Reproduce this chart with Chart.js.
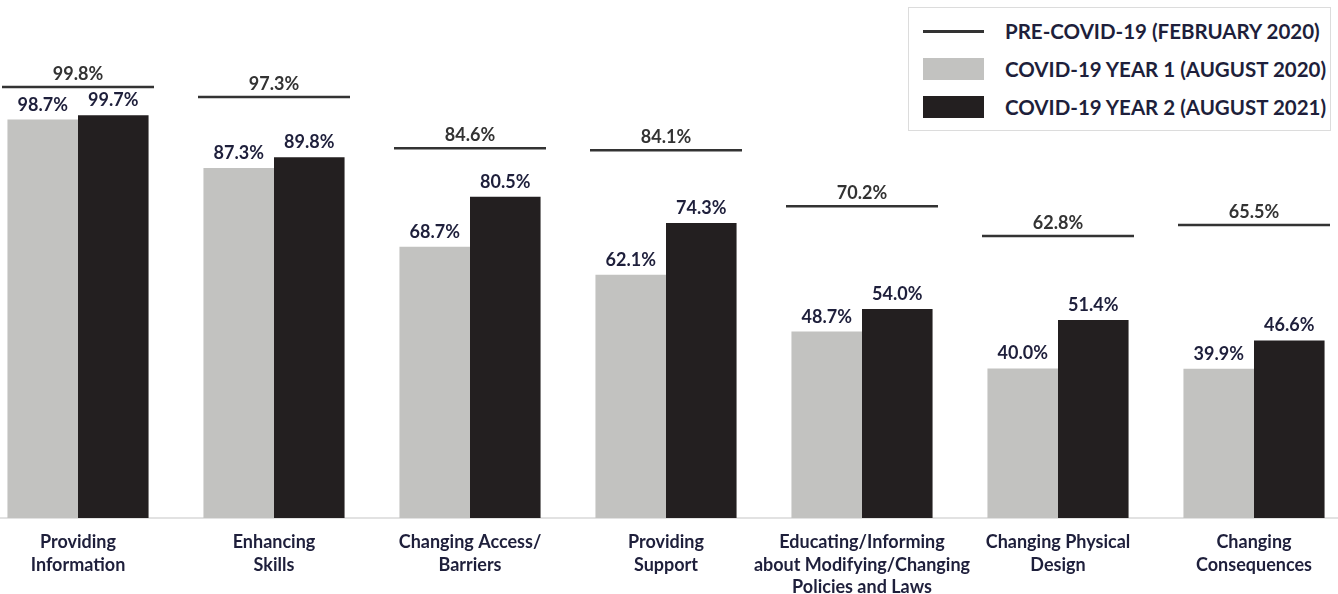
<!DOCTYPE html>
<html>
<head>
<meta charset="utf-8">
<script src="https://cdn.jsdelivr.net/npm/chart.js@4/dist/chart.umd.min.js"></script>
<style>
  html, body { margin: 0; padding: 0; background: #fff; overflow: hidden; }
  #wrap { position: relative; width: 1338px; height: 594px; overflow: hidden; }
  #box { position: absolute; left: -20px; top: 0; width: 1372px; height: 594px; }
  #legend {
    position: absolute; left: 908px; top: 7px; width: 421px; height: 122px;
    border: 1.5px solid #dcdcdc; background: #fff;
    font-family: Lato, "Noto Sans", sans-serif; font-weight: 700; font-size: 20.5px; color: #1e1f3b;
  }
  #legend .item { position: absolute; left: 14px; height: 24px; display: flex; align-items: center; white-space: nowrap; }
  #legend .sym { width: 61px; height: 22px; margin-right: 21px; position: relative; flex: none; }
  #legend .sym.line::after { content: ""; position: absolute; left: 0; right: 0; top: 10px; height: 2.5px; background: #333; }
</style>
</head>
<body>
<div id="wrap">
  <div id="box"><canvas id="myChart" width="1372" height="594"></canvas></div>
  <div id="legend"></div>
</div>
<script>
// categories and survey percentages
const categories = [
  ['Providing', 'Information'],
  ['Enhancing', 'Skills'],
  ['Changing Access/', 'Barriers'],
  ['Providing', 'Support'],
  ['Educating/Informing', 'about Modifying/Changing', 'Policies and Laws'],
  ['Changing Physical', 'Design'],
  ['Changing', 'Consequences']
];
const preCovid = [99.8, 97.3, 84.6, 84.1, 70.2, 62.8, 65.5];
const year1 = [98.7, 87.3, 68.7, 62.1, 48.7, 40.0, 39.9];
const year2 = [99.7, 89.8, 80.5, 74.3, 54.0, 51.4, 46.6];

const seriesNames = [
  'PRE-COVID-19 (FEBRUARY 2020)',
  'COVID-19 YEAR 1 (AUGUST 2020)',
  'COVID-19 YEAR 2 (AUGUST 2021)'
];

const NAVY = '#1e1f3b';
const GREY = '#c2c2c0';
const BLACK = '#231f20';
const LINE = '#333333';
const FONT = 'Lato, "Noto Sans", sans-serif';

// legend box
const legend = document.getElementById('legend');
const symClass = ['line', 'grey', 'black'];
seriesNames.forEach(function(name, i){
  const item = document.createElement('div');
  item.className = 'item';
  item.style.top = (11 + i * 38) + 'px';
  const sym = document.createElement('span');
  sym.className = 'sym ' + symClass[i];
  if(i == 1) sym.style.background = GREY;
  if(i == 2) sym.style.background = BLACK;
  const txt = document.createElement('span');
  txt.textContent = name;
  item.appendChild(sym);
  item.appendChild(txt);
  legend.appendChild(item);
});

// percent labels above bars and above the pre-covid lines
const valueLabels = {
  id: 'valueLabels',
  afterDatasetsDraw(chart){
    const ctx = chart.ctx;
    ctx.save();
    ctx.font = '700 18px ' + FONT;
    ctx.textAlign = 'center';
    ctx.textBaseline = 'alphabetic';
    chart.data.datasets.forEach(function(ds, di){
      const meta = chart.getDatasetMeta(di);
      const isLine = ds.type === 'line';
      ctx.fillStyle = isLine ? '#333333' : NAVY;
      meta.data.forEach(function(el, i){
        const gap = isLine ? 7 : 9;
        ctx.fillText(ds.data[i].toFixed(1) + '%', el.x, el.y - gap);
      });
    });
    ctx.restore();
  }
};

const canvas = document.getElementById('myChart');
const myChart = new Chart(canvas, {
  type: 'bar',
  data: {
    labels: categories,
    datasets: [
      {
        type: 'line',
        label: seriesNames[0],
        data: preCovid,
        yAxisID: 'y2',
        showLine: false,
        pointStyle: 'line',
        pointRadius: 76,
        pointBorderWidth: 2.5,
        borderColor: LINE,
        backgroundColor: LINE,
        clip: false,
        order: 0
      },
      {
        label: seriesNames[1],
        data: year1,
        backgroundColor: GREY,
        yAxisID: 'y',
        order: 1
      },
      {
        label: seriesNames[2],
        data: year2,
        backgroundColor: BLACK,
        yAxisID: 'y',
        order: 1
      }
    ]
  },
  plugins: [valueLabels],
  options: {
    responsive: false,
    animation: false,
    events: [],
    layout: { autoPadding: false, padding: { top: 20, left: 0, right: 0, bottom: 0 } },
    datasets: {
      bar: { categoryPercentage: 0.72, barPercentage: 1.0 }
    },
    plugins: {
      legend: { display: false },
      tooltip: { enabled: false }
    },
    scales: {
      x: {
        grid: { display: false, drawTicks: false },
        border: { display: true, color: '#e2e2e2', width: 2 },
        ticks: {
          color: NAVY,
          padding: 13,
          maxRotation: 0,
          autoSkip: false,
          font: { family: FONT, size: 18, weight: '700', lineHeight: 1.25 }
        },
        afterFit(scale){ scale.height = 76; }
      },
      y: {
        display: false,
        min: 4.7,
        max: 122.2
      },
      y2: {
        display: false,
        min: -7.2,
        max: 116.4
      }
    }
  }
});
</script>
</body>
</html>
